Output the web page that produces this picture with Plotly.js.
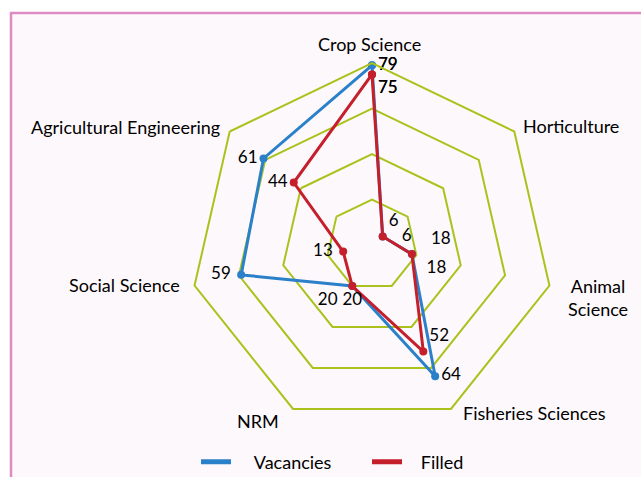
<!DOCTYPE html>
<html><head><meta charset="utf-8">
<script src="https://cdn.plot.ly/plotly-3.0.1.min.js"></script>
<style>html,body{margin:0;padding:0;background:#fff;}</style>
</head><body>
<div id="chart" style="width:641px;height:477px;"></div>
<script>
const categories = ["Crop Science","Horticulture","Animal Science","Fisheries Sciences","NRM","Social Science","Agricultural Engineering"];
const vacancies = [79, 6, 18, 64, 20, 59, 61];
const filled = [75, 6, 18, 52, 20, 13, 44];
const vacPos = ["middle right","top right","top right","middle right","bottom left","middle left","middle left"];
const filPos = ["bottom right","middle right","bottom right","top right","bottom center","middle left","middle left"];
const vacPad = [["",""],["",""],["\u00a0\u00a0\u00a0",""],["",""],["","\u00a0\u00a0"],["","\u00a0"],["",""]];
const filPad = [["",""],["\u00a0\u00a0\u00a0",""],["\u00a0\u00a0",""],["",""],["",""],["","\u00a0"],["",""]];

const W = 641, H = 477;
const cx = 372, cy = 245, R = 182;
const blue = "#2A80C9", red = "#C51F2C", green = "#A9C31C";
const close = a => a.concat([a[0]]);
const lbl = (vals, pad) => vals.map((v, i) => pad[i][0] + String(v) + pad[i][1]);

// category label placement (pixel anchors)
const catAnchor = [
  {x:369, y:44, xa:"center"},
  {x:521, y:126, xa:"left"},
  {x:598, y:297, xa:"center"},
  {x:461, y:413, xa:"left"},
  {x:258, y:421, xa:"center"},
  {x:182, y:285, xa:"right"},
  {x:222, y:127, xa:"right"}
];
const annotations = categories.map((c, i) => ({
  xref:"paper", yref:"paper", x: catAnchor[i].x / W, y: 1 - catAnchor[i].y / H,
  xanchor: catAnchor[i].xa, yanchor:"middle", showarrow:false, align:"center",
  text: c === "Animal Science" ? "Animal<br>Science" : c,
  font:{family:"Lato", size:18, color:"#000"}
}));

const traces = [
  {type:"scatterpolar", r: close(vacancies), theta: close(categories), mode:"lines+markers+text",
   text: close(lbl(vacancies, vacPad)), textposition: close(vacPos),
   textfont:{family:"Lato", size:17, color:"#000"}, cliponaxis:false,
   line:{color:blue, width:3}, marker:{color:blue, size:8}, name:"Vacancies", showlegend:false, hoverinfo:"none"},
  {type:"scatterpolar", r: close(filled), theta: close(categories), mode:"lines+markers+text",
   text: close(lbl(filled, filPad)), textposition: close(filPos),
   textfont:{family:"Lato", size:17, color:"#000"}, cliponaxis:false,
   line:{color:red, width:3}, marker:{color:red, size:8}, name:"Filled", showlegend:false, hoverinfo:"none"},
  {type:"scatterpolar", r:[null], theta:[categories[0]], mode:"lines", line:{color:blue, width:5}, name:"\u00a0\u00a0\u00a0\u00a0Vacancies"},
  {type:"scatterpolar", r:[null], theta:[categories[0]], mode:"lines", line:{color:red, width:5}, name:"\u00a0\u00a0\u00a0Filled"}
];

const layout = {
  width: W, height: H,
  margin:{l:0, r:0, t:0, b:0, autoexpand:false},
  paper_bgcolor:"#ffffff",
  font:{family:"Lato", size:17, color:"#000"},
  shapes:[{type:"rect", xref:"paper", yref:"paper", x0:11/W, x1:1.05, y0:-0.05, y1:1-13/H,
           line:{color:"#DE8BC4", width:2.5}, fillcolor:"#FDF8FB", layer:"below"}],
  annotations: annotations,
  polar:{
    domain:{x:[(cx-R)/W,(cx+R)/W], y:[1-(cy+R)/H, 1-(cy-R)/H]},
    bgcolor:"rgba(0,0,0,0)",
    gridshape:"linear",
    radialaxis:{range:[0,80], dtick:20, showticklabels:false, ticks:"", showline:false,
                gridcolor:green, gridwidth:2},
    angularaxis:{rotation:90, direction:"clockwise", showgrid:false, showline:true,
                 linecolor:green, linewidth:2, ticks:"", showticklabels:false}
  },
  legend:{orientation:"h", x:196/W, y:1-462/H, xanchor:"left", yanchor:"middle",
          font:{family:"Lato", size:18, color:"#000"}, bgcolor:"rgba(0,0,0,0)",
          entrywidth:126, entrywidthmode:"pixels"}
};
Plotly.newPlot("chart", traces, layout, {displayModeBar:false, staticPlot:true});
</script>
</body></html>
